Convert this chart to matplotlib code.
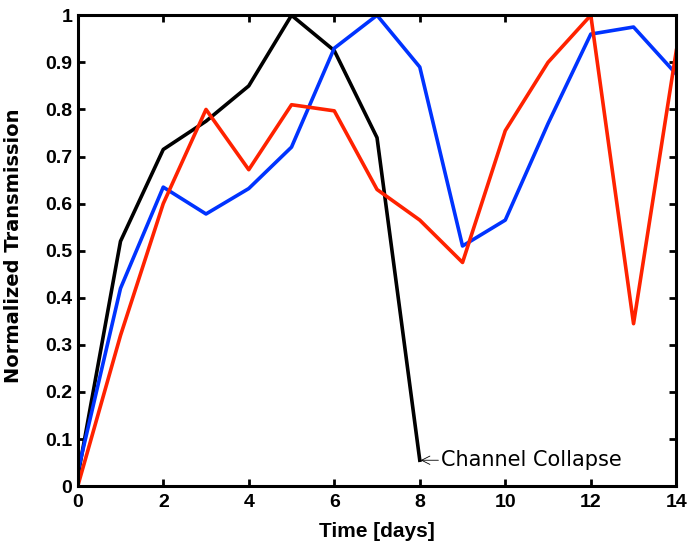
import numpy as np
from matplotlib import pyplot as plt

# Дані
days = np.arange(0, 15)
black_days = np.arange(0, 9)
black_vals = [0.02, 0.52, 0.715, 0.775, 0.85, 1.0, 0.925, 0.74, 0.055]
blue_vals = [0.03, 0.42, 0.635, 0.578, 0.632, 0.72, 0.93, 1.0, 0.89,
             0.51, 0.565, 0.77, 0.96, 0.975, 0.875]
red_vals = [0.0, 0.32, 0.6, 0.8, 0.672, 0.81, 0.797, 0.63, 0.565,
            0.475, 0.755, 0.9, 1.0, 0.345, 0.925]

x_ticks = np.arange(0, 15, 2)
y_ticks = np.round(np.arange(0, 1.01, 0.1), 1)
y_labels = ["0", "0.1", "0.2", "0.3", "0.4", "0.5", "0.6", "0.7", "0.8", "0.9", "1"]

plt.rcParams['font.family'] = ['Liberation Sans', 'DejaVu Sans']

fig = plt.figure(figsize=(6.88, 5.45), dpi=100)
ax = fig.add_axes([0.113, 0.108, 0.870, 0.864])

ax.plot(black_days, black_vals, color="black", linewidth=2.6)
ax.plot(days, blue_vals, color="#0033ff", linewidth=2.6)
ax.plot(days, red_vals, color="#ff2200", linewidth=2.6)

ax.annotate("Channel Collapse", xy=(8.02, black_vals[-1]), xytext=(8.5, black_vals[-1]),
            va="center", ha="left", fontsize=15, family="DejaVu Sans",
            arrowprops=dict(arrowstyle="->", color="black", linewidth=0.6,
                            shrinkA=0, shrinkB=0))

ax.set_xlim(0, 14)
ax.set_ylim(0, 1)
ax.set_xticks(x_ticks)
ax.set_yticks(y_ticks)
ax.set_xticklabels([str(t) for t in x_ticks], fontweight="bold")
ax.set_yticklabels(y_labels, fontweight="bold")
ax.tick_params(direction="in", length=5, width=2, labelsize=14, top=True, right=True)
ax.tick_params(axis="x", pad=6)
ax.tick_params(axis="y", pad=4)
for s in ax.spines.values():
    s.set_linewidth(2.2)

ax.set_xlabel("Time [days]", fontsize=15, fontweight="bold")
ax.set_ylabel("Normalized Transmission", fontsize=14, fontweight="bold",
              family="DejaVu Sans")
ax.xaxis.set_label_coords(0.5, -0.077)
ax.yaxis.set_label_coords(-0.092, 0.51)

fig.savefig("out.png", dpi=100)
